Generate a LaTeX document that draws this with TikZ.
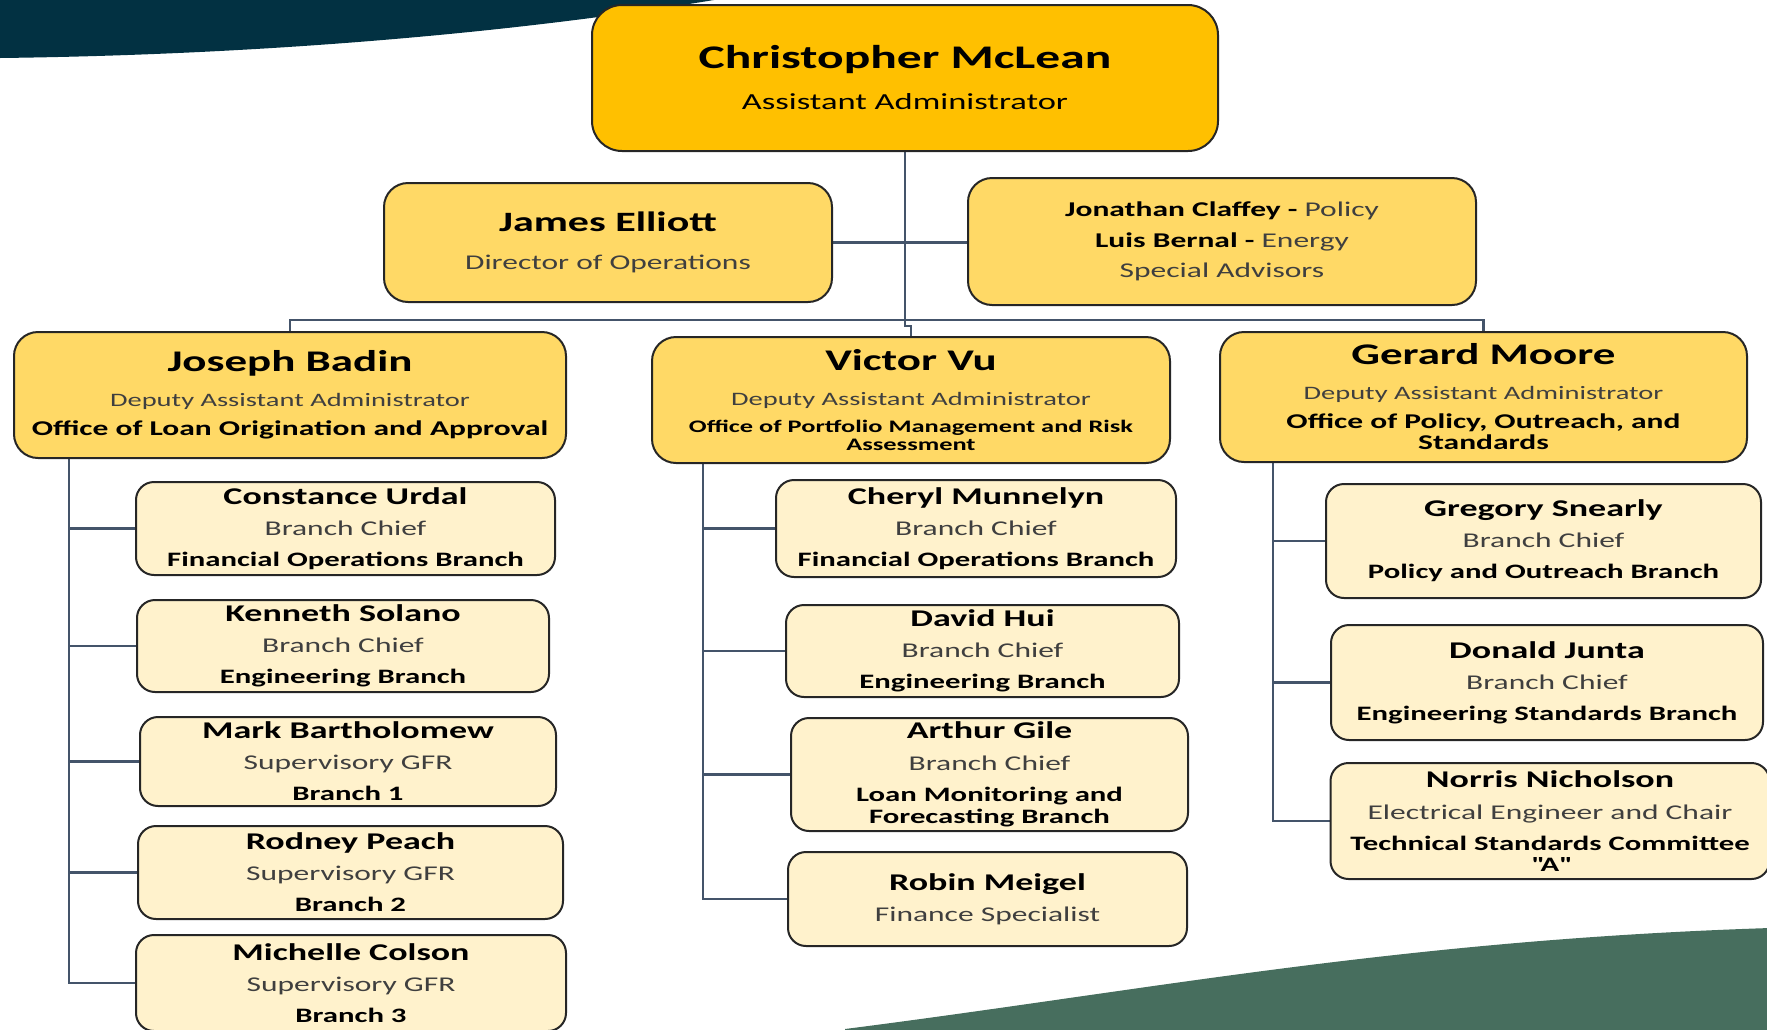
\documentclass[tikz,border=0pt]{standalone}
\usepackage{fontspec}
\setmainfont{Carlito}[FakeStretch=1.5]
\usetikzlibrary{calc}
\definecolor{navy}{HTML}{023142}
\definecolor{deepgreen}{HTML}{476E5E}
\definecolor{gold}{HTML}{FFC000}
\definecolor{midgold}{HTML}{FFD966}
\definecolor{paleg}{HTML}{FFF2CC}
\definecolor{edgecol}{HTML}{262626}
\definecolor{linkcol}{HTML}{44546A}
\definecolor{subcol}{HTML}{3F3F3F}
\newcommand\bnm[2]{{\bfseries\fontsize{#1}{10}\selectfont #2}}
\newcommand\rl[2]{{\color{subcol}\fontsize{#1}{10}\selectfont #2}}
\newcommand\sq{\XeTeXglyph\XeTeXcharglyph"0022\relax}
\pgfdeclarelayer{bg}
\pgfsetlayers{bg,main}
\tikzset{
  card/.style={draw=edgecol, line width=2pt, align=center, inner sep=0pt},
  chief/.style={card, fill=gold, rounded corners=30pt},
  lead/.style={card, fill=midgold, rounded corners=24pt},
  unit/.style={card, fill=paleg, rounded corners=18pt},
  wh/.style 2 args={minimum width=#1pt, minimum height=#2pt},
  link/.style={draw=linkcol, line width=2.2pt},
  kid/.style={unit, font=\fontsize{21}{31}\selectfont}
}
\begin{document}
\begin{tikzpicture}[x=1pt,y=-1pt]
\useasboundingbox (0,0) rectangle (1767,1029);

% top level
\node[chief, wh={626}{146}, font=\fontsize{23}{41}\selectfont] (cm) at (905,78)
  {\bnm{33}{Christopher McLean}\\{\fontsize{23}{10}\selectfont Assistant Administrator}};
\node[lead, wh={448}{119}, font=\fontsize{21}{38}\selectfont] (je) at (608,242.5)
  {\bnm{28}{James Elliott}\\\rl{21}{Director of Operations}};
\node[lead, wh={508}{127}, font=\fontsize{21}{30.5}\selectfont] (sa) at (1222,241.5)
  {\bnm{21}{Jonathan Claffey -} \rl{21}{Policy}\\\bnm{21}{Luis Bernal -} \rl{21}{Energy}\\\rl{21}{Special Advisors}};

% deputies
\node[lead, wh={552}{126}, font=\fontsize{19}{29}\selectfont] (jb) at (290,395)
  {\bnm{30}{Joseph Badin}\\[6pt]\rl{19}{Deputy Assistant Administrator}\\\bnm{21}{Office of Loan Origination and Approval}};
\node[lead, wh={518}{126}, font=\fontsize{19}{27}\selectfont] (vv) at (911,400)
  {\bnm{30}{Victor Vu}\\[8pt]\rl{19}{Deputy Assistant Administrator}\\\bnm{17.6}{Office of Portfolio Management and Risk}\\[-9pt]\bnm{17.6}{Assessment}};
\node[lead, wh={527}{130}, font=\fontsize{19}{29}\selectfont] (gm) at (1483.5,397)
  {\bnm{30}{Gerard Moore}\\[6pt]\rl{19}{Deputy Assistant Administrator}\\\bnm{21}{Office of Policy, Outreach, and}\\[-8pt]\bnm{21}{Standards}};

% Joseph Badin's branches
\node[kid, wh={419}{93}] (cu) at (345.5,528.5)
  {\bnm{24}{Constance Urdal}\\\rl{21}{Branch Chief}\\\bnm{20.5}{Financial Operations Branch}};
\node[kid, wh={412}{92}] (ks) at (343,646)
  {\bnm{24}{Kenneth Solano}\\\rl{21}{Branch Chief}\\\bnm{20.5}{Engineering Branch}};
\node[kid, wh={416}{89}] (mb) at (348,761.5)
  {\bnm{24}{Mark Bartholomew}\\\rl{21}{Supervisory GFR}\\\bnm{20.5}{Branch 1}};
\node[kid, wh={425}{93}] (rp) at (350.5,872.5)
  {\bnm{24}{Rodney Peach}\\\rl{21}{Supervisory GFR}\\\bnm{20.5}{Branch 2}};
\node[kid, wh={430}{96}] (mc) at (351,983)
  {\bnm{24}{Michelle Colson}\\\rl{21}{Supervisory GFR}\\\bnm{20.5}{Branch 3}};

% Victor Vu's branches
\node[kid, wh={400}{97}] (cmu) at (976,528.5)
  {\bnm{24}{Cheryl Munnelyn}\\\rl{21}{Branch Chief}\\\bnm{20.5}{Financial Operations Branch}};
\node[kid, wh={393}{92}] (dh) at (982.5,651)
  {\bnm{24}{David Hui}\\\rl{21}{Branch Chief}\\\bnm{20.5}{Engineering Branch}};
\node[kid, wh={397}{113}] (ag) at (989.5,774.5)
  {\bnm{24}{Arthur Gile}\\[1pt]\rl{21}{Branch Chief}\\\bnm{20.5}{Loan Monitoring and}\\[-9pt]\bnm{20.5}{Forecasting Branch}};
\node[kid, wh={399}{94}] (rm) at (987.5,899)
  {\bnm{24}{Robin Meigel}\\\rl{21}{Finance Specialist}};

% Gerard Moore's branches
\node[kid, wh={435}{114}] (gs) at (1543.5,541)
  {\bnm{24}{Gregory Snearly}\\\rl{21}{Branch Chief}\\\bnm{20.5}{Policy and Outreach Branch}};
\node[kid, wh={432}{115}] (dj) at (1547,682.5)
  {\bnm{24}{Donald Junta}\\\rl{21}{Branch Chief}\\\bnm{20.5}{Engineering Standards Branch}};
\node[kid, wh={439}{116}] (nn) at (1550,821)
  {\bnm{24}{Norris Nicholson}\\[1pt]\rl{21}{Electrical Engineer and Chair}\\\bnm{20.5}{Technical Standards Committee}\\[-10pt]\bnm{20.5}{\sq A\sq}};

\coordinate (bus) at (0,320);
\coordinate (jog) at (0,326);
\coordinate (jbt) at ($(jb.south west)+(56,0)$);
\coordinate (vvt) at ($(vv.south west)+(52,0)$);
\coordinate (gmt) at ($(gm.south west)+(54,0)$);

\begin{pgfonlayer}{bg}
  \fill[navy] (-3,-3) -- (716,-3) -- (714,0) .. controls (500,35) and (250,55) .. (0,58) -- (-3,58) -- cycle;
  \fill[deepgreen] (845,1032) -- (845,1029) .. controls (1150,990) and (1400,940) .. (1770,928) -- (1770,1032) -- cycle;

  \draw[link] (cm.south) -- (cm.south |- jog) -| (vv.north);
  \draw[link] (jb.north) -- (jb.north |- bus) -- (gm.north |- bus) -- (gm.north);
  \draw[link] (je.east) -- (je.east -| sa.west);

  \draw[link] (jbt) |- (mc.west);
  \foreach \k in {cu,ks,mb,rp} \draw[link] (\k.west) -- (\k.west -| jbt);
  \draw[link] (vvt) |- (rm.west);
  \foreach \k in {cmu,dh,ag} \draw[link] (\k.west) -- (\k.west -| vvt);
  \draw[link] (gmt) |- (nn.west);
  \foreach \k in {gs,dj} \draw[link] (\k.west) -- (\k.west -| gmt);
\end{pgfonlayer}
\end{tikzpicture}
\end{document}
